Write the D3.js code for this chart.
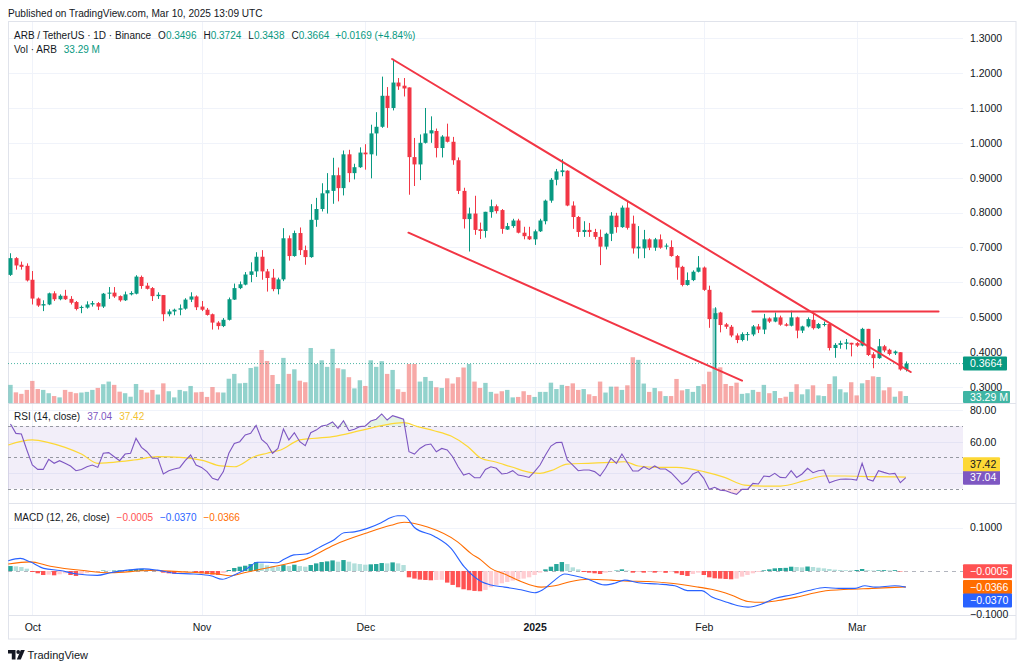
<!DOCTYPE html>
<html><head><meta charset="utf-8">
<script src="https://cdn.jsdelivr.net/npm/d3@7"></script>
<style>
html,body{margin:0;padding:0;background:#fff;}
svg{display:block;}
</style></head><body>
<svg id="c" width="1024" height="668"></svg>
<script>
// ---------------- DATA ----------------
const startDate = "2024-09-27";
const opens = [.621,.669,.650,.647,.607,.553,.533,.536,.568,.551,
.561,.552,.543,.526,.527,.536,.540,.530,.567,.570,
.560,.548,.565,.567,.615,.590,.583,.560,.563,.508,
.516,.521,.524,.550,.559,.530,.521,.508,.484,.474,
.492,.550,.583,.593,.621,.631,.673,.631,.613,.580,
.608,.726,.675,.741,.692,.672,.779,.810,.855,.862,
.907,.870,.967,.913,.930,.972,.967,1.027,1.046,1.135,
1.100,1.173,1.164,1.159,.959,.938,1.000,1.027,1.034,.985,
1.018,1.003,.950,.862,.781,.797,.752,.747,.801,.818,
.807,.751,.761,.777,.742,.732,.723,.746,.775,.834,
.894,.916,.920,.820,.787,.744,.750,.744,.730,.702,
.739,.791,.758,.814,.768,.697,.697,.723,.699,.723,
.702,.701,.675,.644,.592,.606,.630,.642,.578,.494,
.513,.479,.472,.447,.434,.449,.450,.473,.464,.496,
.487,.499,.479,.475,.499,.461,.473,.492,.468,.478,
.480,.411,.420,.423,.426,.425,.418,.466,.393,.382,
.416,.406,.396,.399,.3496];
const highs = [.683,.672,.659,.654,.632,.556,.548,.570,.574,.565,
.578,.560,.546,.533,.545,.546,.543,.569,.586,.586,
.562,.573,.574,.620,.619,.598,.586,.571,.563,.522,
.524,.536,.554,.571,.562,.546,.526,.510,.488,.497,
.556,.596,.602,.629,.657,.686,.692,.638,.638,.613,
.755,.734,.748,.757,.705,.824,.842,.884,.913,.957,
.929,.978,.980,.940,.987,.996,1.052,1.088,1.190,1.160,
1.241,1.186,1.186,1.159,1.014,1.024,1.100,1.076,1.041,1.022,
1.055,1.017,.958,.871,.814,.848,.771,.802,.837,.823,
.810,.770,.782,.782,.759,.759,.751,.782,.837,.899,
.925,.953,.921,.832,.790,.775,.770,.753,.751,.742,
.801,.799,.820,.830,.791,.761,.750,.726,.727,.737,
.711,.720,.678,.647,.628,.634,.675,.645,.590,.528,
.515,.483,.477,.453,.456,.457,.477,.480,.509,.499,
.513,.504,.483,.518,.501,.475,.499,.509,.483,.487,
.485,.425,.432,.437,.426,.428,.469,.466,.399,.437,
.420,.409,.404,.399,.3724];
const lows = [.618,.636,.636,.602,.536,.529,.517,.534,.546,.548,
.549,.536,.519,.511,.524,.530,.520,.526,.552,.555,
.544,.546,.562,.565,.581,.579,.546,.552,.488,.502,
.505,.505,.521,.543,.520,.517,.504,.464,.464,.471,
.490,.549,.580,.591,.600,.615,.607,.573,.574,.565,
.603,.662,.673,.678,.650,.670,.759,.803,.797,.825,
.832,.849,.887,.895,.928,.923,.898,.963,1.043,1.043,
1.093,1.152,1.133,.851,.876,.893,.998,1.000,.958,.958,
1.001,.937,.853,.754,.688,.736,.724,.728,.785,.797,
.739,.750,.756,.740,.723,.721,.707,.744,.766,.828,
.878,.904,.818,.753,.730,.730,.730,.723,.649,.694,
.718,.742,.756,.751,.682,.668,.669,.692,.690,.696,
.694,.673,.607,.588,.590,.603,.628,.575,.469,.351,
.456,.466,.442,.425,.430,.432,.445,.454,.451,.483,
.485,.475,.473,.473,.439,.454,.470,.464,.466,.473,
.404,.383,.409,.407,.387,.414,.416,.388,.353,.380,
.399,.390,.391,.346,.3438];
const closes = [.669,.648,.644,.605,.553,.533,.537,.568,.551,.561,
.551,.541,.523,.529,.536,.540,.530,.567,.570,.559,
.548,.565,.569,.616,.589,.581,.560,.564,.508,.516,
.521,.525,.550,.559,.528,.521,.506,.484,.474,.492,
.551,.583,.594,.622,.631,.673,.631,.612,.580,.608,
.726,.675,.741,.692,.672,.779,.810,.855,.864,.907,
.870,.967,.913,.930,.972,.967,1.027,1.046,1.135,1.100,
1.173,1.162,1.156,.959,.938,1.000,1.027,1.036,.985,1.018,
1.003,.950,.862,.781,.797,.750,.747,.802,.818,.804,
.753,.761,.777,.742,.732,.723,.746,.777,.834,.894,
.918,.921,.820,.787,.744,.750,.744,.730,.702,.739,
.791,.758,.814,.756,.697,.702,.723,.699,.723,.699,
.705,.675,.642,.592,.606,.630,.642,.578,.494,.511,
.477,.472,.447,.434,.451,.451,.473,.464,.496,.487,
.499,.478,.475,.499,.461,.473,.494,.468,.480,.480,
.411,.420,.425,.427,.421,.418,.466,.391,.382,.416,
.404,.394,.401,.3495,.3664];
// volume, millions of ARB
const volumes = [84,50,43,61,102,65,61,46,33,27,
61,52,46,49,52,61,70,87,99,84,
53,46,30,88,61,49,61,40,91,55,
27,61,55,79,50,52,29,74,50,49,
112,134,91,93,161,167,243,193,129,88,
207,134,155,103,96,252,179,196,166,248,
160,155,119,68,105,79,196,166,192,134,
152,64,52,179,179,99,120,102,73,70,
114,90,119,163,179,99,70,93,52,44,
55,61,27,29,55,38,29,52,52,94,
65,84,79,91,61,65,41,33,99,49,
76,76,61,82,210,198,90,52,70,55,
33,33,111,59,65,52,79,87,144,433,
164,88,79,94,43,46,61,52,84,46,
56,24,30,52,87,41,64,82,36,33,
88,123,64,50,96,36,91,106,123,120,
59,73,30,55,33.29];
const rsi = [71.3,65.3,64.9,54.7,45.1,42.3,42.3,48.7,46.2,47.9,
46.2,44.5,41.5,42.3,44.0,45.1,43.6,52.6,53.0,50.4,
47.9,52.1,52.6,62.1,56.4,53.6,49.4,49.4,39.4,41.5,
42.6,43.4,47.9,51.5,45.1,43.6,40.9,36.6,35.5,40.9,
52.6,58.9,60.0,64.3,65.3,70.4,61.5,58.5,52.6,55.7,
68.1,61.1,65.7,60.0,57.4,65.7,67.4,70.0,70.6,72.6,
68.5,73.4,67.0,67.9,69.6,70.0,73.2,74.3,77.7,73.8,
76.6,75.5,74.3,53.6,52.1,55.7,57.9,58.5,53.6,55.7,
54.7,50.4,44.0,38.7,39.8,37.0,37.0,42.3,44.0,43.0,
39.4,39.8,41.5,38.7,38.1,37.2,40.9,45.1,51.5,57.2,
59.4,59.6,48.3,45.1,41.5,41.9,41.9,40.9,38.1,43.0,
49.4,46.2,52.1,46.6,41.3,41.3,44.0,42.3,44.5,42.6,
42.6,40.2,36.6,32.8,34.9,39.4,40.9,36.6,29.6,30.9,
29.1,28.7,27.4,26.4,29.6,29.6,33.4,33.0,38.1,37.7,
39.8,37.2,37.0,41.5,37.2,39.4,43.0,40.2,41.5,41.9,
33.8,35.1,36.0,36.2,36.0,35.5,46.2,36.0,34.9,41.5,
40.4,39.4,39.8,33.8,37.04];
// RSI-based moving average, read at day positions
const rsiMaDay = [-0.4,4,7,10,13,16,18,22.6,27,31,35.4,38.5,41,44.6,47,49.5,53,59,64,68.5,72,74.6,77.6,80.7,83.8,86.2,88.7,91.7,95.4,97,99,102,105.8,110,112.5,115,118.6,122,127,130.8,134.5,138,141,145.5,149,152.8,157.8,164];
const rsiMaVal = [57.9,61.1,59.4,56.4,52.1,46.2,46.6,48.3,50.4,50.0,47.9,44.5,44.0,50.4,52.6,54.7,61.1,63.2,67.0,70.6,72.1,69.6,67.0,63.6,56.8,49.4,47.2,44.0,40.2,39.8,41.5,45.7,46.2,46.8,47.2,44.5,43.6,43.6,40.9,37.2,32.3,31.7,31.7,35.1,38.1,38.1,37.7,37.42];
// MACD line, read at day positions
const macdDay = [-0.4,1.8,3.6,6.1,9.1,12.2,15.9,18.3,21.4,24.4,26.9,29.9,33.6,36.7,38.8,41,43.4,45.2,47,48.9,50.1,51.9,54.1,56.8,59.3,61.1,63,65.4,67.9,69.7,70.9,72.1,74,77.6,80.7,83.1,86.2,88,90.5,93.5,96,97.5,99.7,101.5,103.3,105.8,108.8,110.7,112.5,115,118.6,121.7,124,126.6,128.4,130.8,133.3,135.1,137.6,140,143,146.2,149.2,151.7,154.7,156.5,158.4,162,164];
const macdVal = [0.0236,0.029,0.021,0.006,0.001,-0.007,-0.010,-0.004,0.002,0.005,0.002,-0.005,-0.007,-0.011,-0.019,-0.009,0.006,0.020,0.020,0.019,0.027,0.037,0.039,0.056,0.072,0.088,0.090,0.098,0.111,0.123,0.127,0.127,0.100,0.080,0.052,0.010,-0.024,-0.032,-0.037,-0.043,-0.050,-0.043,-0.021,-0.007,-0.011,-0.019,-0.032,-0.028,-0.021,-0.027,-0.030,-0.034,-0.045,-0.045,-0.059,-0.070,-0.080,-0.083,-0.076,-0.063,-0.055,-0.045,-0.038,-0.040,-0.040,-0.034,-0.037,-0.034,-0.0370];
// Signal line, read at day positions
const signalDay = [-0.4,3.6,7.3,13.4,18.3,25.6,31.8,37.9,40.3,42.8,45.8,50.1,54.4,59.3,65.4,69.7,72.1,76.4,81.9,84.4,86.2,88,90.5,93.5,97.2,99.7,102.7,105.8,110,112.5,116.8,121,126,128.4,132,135.1,137.6,140.6,144,148.6,153.5,157.8,164];
const signalVal = [0.016,0.021,0.011,0.001,-0.004,0.001,-0.002,-0.007,-0.011,-0.004,0.004,0.015,0.029,0.060,0.088,0.105,0.112,0.101,0.067,0.040,0.025,0.006,-0.007,-0.024,-0.037,-0.034,-0.024,-0.019,-0.021,-0.023,-0.024,-0.028,-0.037,-0.042,-0.055,-0.070,-0.072,-0.068,-0.060,-0.047,-0.042,-0.040,-0.0366];
const hist = [.0114,.0107,.0092,.0053,-.0023,-.0053,-.0092,-.0084,-.0099,-.0076,
-.0053,-.0092,-.0114,-.0076,-.0046,-.0023,-.0011,.0011,.0008,.0011,
.0015,.0023,.0031,.0046,.0050,.0042,.0023,.0008,-.0038,-.0053,
-.0061,-.0038,-.0015,-.0008,-.0038,-.0053,-.0069,-.0084,-.0092,-.0046,
.0023,.0069,.0099,.0122,.0160,.0206,.0175,.0130,.0114,.0099,
.0137,.0114,.0145,.0114,.0099,.0137,.0175,.0206,.0221,.0244,
.0214,.0252,.0214,.0175,.0160,.0145,.0153,.0160,.0183,.0175,
.0198,.0175,.0137,-.0145,-.0175,-.0198,-.0206,-.0214,-.0206,-.0202,
-.0267,-.0320,-.0374,-.0420,-.0442,-.0458,-.0465,-.0435,-.0374,-.0320,
-.0282,-.0252,-.0221,-.0191,-.0175,-.0145,-.0092,-.0038,.0038,.0099,
.0160,.0206,.0160,.0084,.0038,-.0023,-.0038,-.0053,-.0069,-.0038,
-.0008,.0011,.0038,.0011,-.0038,-.0023,-.0038,-.0015,-.0038,-.0023,
-.0042,-.0019,-.0053,-.0092,-.0114,-.0069,-.0038,-.0092,-.0145,-.0168,
-.0175,-.0183,-.0191,-.0175,-.0130,-.0092,-.0053,-.0023,.0015,.0038,
.0061,.0069,.0072,.0099,.0092,.0084,.0103,.0092,.0076,.0061,
.0046,.0031,.0023,.0019,.0015,.0023,.0046,.0019,.0011,.0015,
.0019,.0015,.0019,-.0011,-.0005];
// drawings: [startDay, startPrice, endDay, endPrice]
const drawLines = [[69.9,1.2406,164.9,0.3422],[72.9,0.742,134.0,0.3172],[135.9,0.5158,170.0,0.5158]];
const priceTicks = [1.3,1.2,1.1,1.0,0.9,0.8,0.7,0.6,0.5,0.4,0.3];
const rsiTicks = [80,60];
const rsiGrid = [80,60,40];
const rsiBands = [70,50,30];
const macdTicks = [0.1,-0.1];
const monthTicks = ["2024-10-01","2024-11-01","2024-12-01","2025-01-01","2025-02-01","2025-03-01"];
const monthLabels = ["Oct","Nov","Dec","2025","Feb","Mar"];

// ---------------- CHART ----------------
const FONT = "'Liberation Sans', Arial, sans-serif";
const svg = d3.select("#c").attr("font-family", FONT);
const L = 8, R = 963, AXR = 1016;
const mainTop = 22, mainBot = 403.5, rsiTop = 404, rsiBot = 503, macdTop = 504, macdBot = 615, axisBot = 639;
const UP = "#089981", DN = "#F23645", TXT = "#131722", GRID = "#f0f3fa", BORDER = "#e0e3eb";

const parse = d3.utcParse("%Y-%m-%d");
const t0 = parse(startDate);
const N = closes.length;
const dateOf = i => new Date(t0.getTime() + i * 864e5);
const x = d3.scaleUtc().domain([dateOf(0), dateOf(N - 1)]).range([10.46, 905.8]);
const xd = i => x(dateOf(i));
const yP = d3.scaleLinear().domain([0.3, 1.3]).range([386.7, 38.3]);
const yV = d3.scaleLinear().domain([0, 433]).range([403.3, 308.3]);
const yR = d3.scaleLinear().domain([30, 70]).range([488.7, 426]);
const yM = d3.scaleLinear().domain([-0.1, 0.1]).range([614.5, 527.5]);

// clips
const defs = svg.append("defs");
function clip(id, y0, y1) {
  defs.append("clipPath").attr("id", id).append("rect").attr("x", L).attr("y", y0).attr("width", R - L).attr("height", y1 - y0);
  return `url(#${id})`;
}
const cMain = clip("cm", mainTop, mainBot), cRsi = clip("cr", rsiTop, rsiBot), cMacd = clip("cd", macdTop, macdBot);

// grids
const grid = svg.append("g").attr("stroke", GRID).attr("stroke-width", 1);
monthTicks.forEach(m => {
  const xx = Math.round(x(parse(m))) + 0.5;
  grid.append("line").attr("x1", xx).attr("x2", xx).attr("y1", mainTop).attr("y2", macdBot);
});
priceTicks.forEach(p => { const yy = Math.round(yP(p)) + 0.5; grid.append("line").attr("x1", L).attr("x2", R).attr("y1", yy).attr("y2", yy); });
rsiGrid.forEach(p => { const yy = Math.round(yR(p)) + 0.5; grid.append("line").attr("x1", L).attr("x2", R).attr("y1", yy).attr("y2", yy); });
macdTicks.forEach(p => { const yy = Math.round(yM(p)) + 0.5; grid.append("line").attr("x1", L).attr("x2", R).attr("y1", yy).attr("y2", yy); });

// frame & separators
const fr = svg.append("g").attr("stroke", BORDER).attr("stroke-width", 1).attr("fill", "none");
fr.append("rect").attr("x", L + 0.5).attr("y", mainTop - 0.5).attr("width", AXR - L - 0.5).attr("height", axisBot - mainTop + 0.5);
[403.5, 503.5, 615.5].forEach(yy => fr.append("line").attr("x1", L).attr("x2", AXR).attr("y1", yy).attr("y2", yy));

// ----- main pane -----
const gm = svg.append("g").attr("clip-path", cMain);
gm.selectAll("rect.v").data(volumes).join("rect")
  .attr("x", (d, i) => xd(i) - 2.2).attr("width", 4.4)
  .attr("y", d => yV(d)).attr("height", d => yV(0) - yV(d))
  .attr("fill", (d, i) => closes[i] >= opens[i] ? "rgba(38,166,154,0.5)" : "rgba(239,83,80,0.5)");
gm.append("line").attr("x1", L).attr("x2", R).attr("y1", yP(closes[N - 1])).attr("y2", yP(closes[N - 1]))
  .attr("stroke", UP).attr("stroke-width", 1).attr("stroke-dasharray", "1,2").attr("opacity", 0.7);
const cg = gm.selectAll("g.c").data(closes).join("g");
cg.append("line").attr("x1", (d, i) => Math.round(xd(i)) + 0.5).attr("x2", (d, i) => Math.round(xd(i)) + 0.5)
  .attr("y1", (d, i) => yP(highs[i])).attr("y2", (d, i) => yP(lows[i]))
  .attr("stroke", (d, i) => d >= opens[i] ? UP : DN).attr("stroke-width", 1);
cg.append("rect").attr("x", (d, i) => Math.round(xd(i)) + 0.5 - 2).attr("width", 4)
  .attr("y", (d, i) => yP(Math.max(d, opens[i])))
  .attr("height", (d, i) => Math.max(1, Math.abs(yP(d) - yP(opens[i]))))
  .attr("fill", (d, i) => d >= opens[i] ? UP : DN);
drawLines.forEach(l => {
  gm.append("line").attr("x1", xd(l[0])).attr("y1", yP(l[1])).attr("x2", xd(l[2])).attr("y2", yP(l[3]))
    .attr("stroke", DN).attr("stroke-width", 2).attr("stroke-linecap", "round");
});

// ----- RSI pane -----
const gr = svg.append("g").attr("clip-path", cRsi);
gr.append("rect").attr("x", L).attr("width", R - L).attr("y", yR(70)).attr("height", yR(30) - yR(70)).attr("fill", "rgba(126,87,194,0.1)");
rsiBands.forEach(b => gr.append("line").attr("x1", L).attr("x2", R).attr("y1", Math.round(yR(b)) + 0.5).attr("y2", Math.round(yR(b)) + 0.5)
  .attr("stroke", "#9598a1").attr("stroke-dasharray", "3,3"));
gr.append("path").datum(rsi).attr("fill", "rgba(76,175,80,0.15)")
  .attr("d", d3.area().x((d, i) => xd(i)).y0(yR(70)).y1(d => yR(Math.max(70, d))));
gr.append("path").datum(rsi).attr("fill", "rgba(242,54,69,0.15)")
  .attr("d", d3.area().x((d, i) => xd(i)).y0(yR(30)).y1(d => yR(Math.min(30, d))));
gr.append("path").datum(rsiMaDay.map((d, i) => [d, rsiMaVal[i]])).attr("fill", "none").attr("stroke", "#FDD835").attr("stroke-width", 1.2)
  .attr("d", d3.line().x(d => xd(d[0])).y(d => yR(d[1])).curve(d3.curveMonotoneX));
gr.append("path").datum(rsi).attr("fill", "none").attr("stroke", "#7E57C2").attr("stroke-width", 1.1)
  .attr("d", d3.line().x((d, i) => xd(i)).y(d => yR(d)));

// ----- MACD pane -----
const gd = svg.append("g").attr("clip-path", cMacd);
gd.append("line").attr("x1", L).attr("x2", R).attr("y1", Math.round(yM(0)) + 0.5).attr("y2", Math.round(yM(0)) + 0.5)
  .attr("stroke", "#b2b5be").attr("stroke-dasharray", "4,4");
const hcol = (v, p) => v >= 0 ? (v > p ? "#26A69A" : "#B2DFDB") : (v < p ? "#FF5252" : "#FFCDD2");
gd.selectAll("rect.h").data(hist).join("rect")
  .attr("x", (d, i) => xd(i) - 2.2).attr("width", 4.4)
  .attr("y", d => yM(Math.max(0, d))).attr("height", d => Math.abs(yM(d) - yM(0)))
  .attr("fill", (d, i) => hcol(d, i ? hist[i - 1] : -Infinity));
gd.append("path").datum(signalDay.map((d, i) => [d, signalVal[i]])).attr("fill", "none").attr("stroke", "#FF6D00").attr("stroke-width", 1.1)
  .attr("d", d3.line().x(d => xd(d[0])).y(d => yM(d[1])).curve(d3.curveMonotoneX));
gd.append("path").datum(macdDay.map((d, i) => [d, macdVal[i]])).attr("fill", "none").attr("stroke", "#2962FF").attr("stroke-width", 1.1)
  .attr("d", d3.line().x(d => xd(d[0])).y(d => yM(d[1])).curve(d3.curveMonotoneX));

// ----- axes -----
function styleAxis(g) {
  g.select(".domain").remove();
  g.attr("font-family", FONT).attr("font-size", 10.5);
  g.selectAll("text").attr("fill", TXT);
}
svg.append("g").attr("transform", `translate(${R},0)`)
  .call(d3.axisRight(yP).tickValues(priceTicks).tickFormat(d3.format(".4f")).tickSize(0).tickPadding(7)).call(styleAxis);
svg.append("g").attr("transform", `translate(${R},0)`)
  .call(d3.axisRight(yR).tickValues(rsiTicks).tickFormat(d3.format(".2f")).tickSize(0).tickPadding(7)).call(styleAxis);
svg.append("g").attr("transform", `translate(${R},0)`)
  .call(d3.axisRight(yM).tickValues(macdTicks).tickFormat(d3.format(".4f")).tickSize(0).tickPadding(7)).call(styleAxis);
const gx = svg.append("g").attr("transform", `translate(0,${macdBot})`)
  .call(d3.axisBottom(x).tickValues(monthTicks.map(parse)).tickFormat((d, i) => monthLabels[i]).tickSize(0).tickPadding(9)).call(styleAxis);
gx.selectAll("text").attr("font-weight", (d, i) => monthLabels[i] === "2025" ? "bold" : null);

// ----- value labels on the axis -----
function tag(yc, txt, bg, fg, w, hgt) {
  const hh = hgt || 14;
  const g = svg.append("g");
  g.append("rect").attr("x", R).attr("y", yc - hh / 2).attr("width", w).attr("height", hh).attr("fill", bg).attr("rx", 1);
  g.append("text").attr("x", R + 7).attr("y", yc).attr("dy", "0.35em").attr("font-size", 10.5).attr("fill", fg).text(txt);
}
const f4 = d3.format(".4f"), f2 = d3.format(".2f");
tag(yV(volumes[N - 1]) + 1, "33.29 M", "#3fb5a4", "#fff", 47, 12);
tag(yP(closes[N - 1]), f4(closes[N - 1]), UP, "#fff", 44);
const rsiLast = rsi[N - 1], maLast = rsiMaVal[rsiMaVal.length - 1];
tag(yR(rsiLast), f2(rsiLast), "#7E57C2", "#fff", 37);
tag(yR(rsiLast) - 13.5, f2(maLast), "#FDD835", TXT, 37);
const hLast = hist[N - 1], mLast = macdVal[macdVal.length - 1], sLast = signalVal[signalVal.length - 1];
tag(yM(hLast), f4(hLast), "#FF5252", "#fff", 49);
tag(yM(sLast), f4(sLast), "#FF6D00", "#fff", 49);
tag(yM(sLast) + 13.5, f4(mLast), "#2962FF", "#fff", 49);

// ----- legends -----
function legend(y, parts) {
  const t = svg.append("text").attr("x", 14).attr("y", y).attr("font-size", 10).attr("fill", TXT);
  parts.forEach(p => t.append("tspan").attr("fill", p[1]).attr("dx", p[2] || 0).text(p[0]));
}
const o = opens[N - 1], h = highs[N - 1], l = lows[N - 1], c = closes[N - 1], pc = closes[N - 2];
const chg = c - pc;
legend(38.5, [["ARB / TetherUS · 1D · Binance", TXT], ["O", TXT, 7], [f4(o), UP], ["H", TXT, 7], [f4(h), UP], ["L", TXT, 7], [f4(l), UP], ["C", TXT, 7], [f4(c), UP],
  [(chg >= 0 ? "+" : "") + f4(chg) + " (" + (chg >= 0 ? "+" : "") + f2(chg / pc * 100) + "%)", UP, 6]]);
legend(53, [["Vol · ARB", TXT], ["33.29 M", UP, 7]]);
legend(420, [["RSI (14, close)", TXT], [f2(rsiLast), "#7E57C2", 7], [f2(maLast), "#F2C230", 7]]);
legend(521, [["MACD (12, 26, close)", TXT], [f4(hLast), "#FF5252", 7], [f4(mLast), "#2962FF", 7], [f4(sLast), "#FF6D00", 7]]);

// header & footer
svg.append("text").attr("x", 8).attr("y", 17).attr("font-size", 10.1).attr("fill", TXT).text("Published on TradingView.com, Mar 10, 2025 13:09 UTC");
const logo = svg.append("g").attr("fill", TXT);
logo.append("path").attr("d", "M8,650 H15.5 V659.5 H11.8 V653.5 H8 Z");
logo.append("circle").attr("cx", 18.2).attr("cy", 652).attr("r", 1.9);
logo.append("path").attr("d", "M20.8,650 H24.8 L20.8,659.5 H16.8 Z");
svg.append("text").attr("x", 27.5).attr("y", 659).attr("font-size", 11).attr("fill", TXT).text("TradingView");
</script>
</body></html>
